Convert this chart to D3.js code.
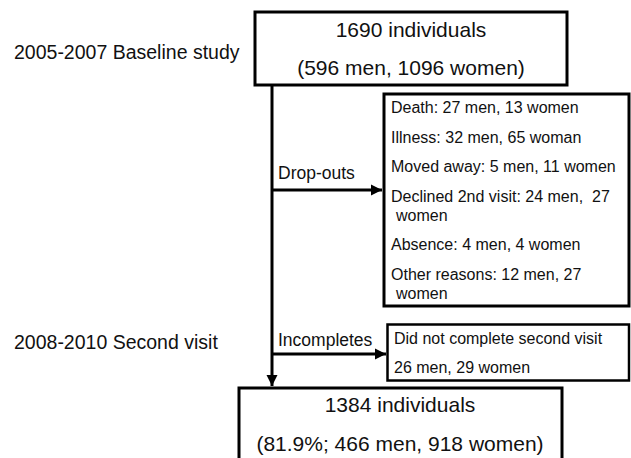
<!DOCTYPE html>
<html>
<head>
<meta charset="utf-8">
<script src="https://cdn.jsdelivr.net/npm/d3@7"></script>
<style>
  body { margin: 0; background: #fff; }
  text { font-family: "Liberation Sans", Arial, sans-serif; fill: #111; white-space: pre; }
</style>
</head>
<body>
<div id="chart"></div>
<script>
const width = 631, height = 458

// stage labels on the left
const stages = ["2005-2007 Baseline study", "2008-2010 Second visit"]

// main boxes
const baseline = ["1690 individuals", "(596 men, 1096 women)"]
const final = ["1384 individuals", "(81.9%; 466 men, 918 women)"]

// side branches
const branchLabels = ["Drop-outs", "Incompletes"]
const dropouts = [
  ["Death: 27 men, 13 women"],
  ["Illness: 32 men, 65 woman"],
  ["Moved away: 5 men, 11 women"],
  ["Declined 2nd visit: 24 men,  27", "women"],
  ["Absence: 4 men, 4 women"],
  ["Other reasons: 12 men, 27", "women"]
]
const incompletes = ["Did not complete second visit", "26 men, 29 women"]

const svg = d3.select("#chart").append("svg")
  .attr("width", width)
  .attr("height", height)

svg.append("defs").append("marker")
  .attr("id", "head")
  .attr("viewBox", "0 0 10 10")
  .attr("refX", 10).attr("refY", 5)
  .attr("markerWidth", 11).attr("markerHeight", 12)
  .attr("markerUnits", "userSpaceOnUse")
  .attr("orient", "auto")
  .append("path")
  .attr("d", "M0,0L10,5L0,10Z")
  .attr("fill", "#000")

function box(x, y, w, h, sw) {
  svg.append("rect")
    .attr("x", x).attr("y", y)
    .attr("width", w).attr("height", h)
    .attr("fill", "#fff")
    .attr("stroke", "#000")
    .attr("stroke-width", sw)
}

function arrow(x1, y1, x2, y2) {
  svg.append("line")
    .attr("x1", x1).attr("y1", y1)
    .attr("x2", x2).attr("y2", y2)
    .attr("stroke", "#000")
    .attr("stroke-width", 3)
    .attr("marker-end", "url(#head)")
}

// stage labels
const stageY = d3.scaleOrdinal().domain(stages).range([59, 349])
svg.selectAll("text.stage")
  .data(stages)
  .enter().append("text")
  .attr("class", "stage")
  .attr("x", 14)
  .attr("y", d => stageY(d))
  .style("font-size", "19.5px")
  .text(d => d)

// spine + arrows
const spineX = 272
svg.append("line")
  .attr("x1", spineX).attr("y1", 85)
  .attr("x2", spineX).attr("y2", 190)
  .attr("stroke", "#000").attr("stroke-width", 3)
arrow(spineX, 190, spineX, 386)
arrow(spineX, 190, 382, 190)
arrow(spineX, 354, 386, 354)

// top box
box(255, 12, 312, 73, 3)
const mainLine = d3.scaleLinear().domain([0, 1]).range([37, 75])
svg.selectAll("text.top")
  .data(baseline)
  .enter().append("text")
  .attr("class", "top")
  .attr("x", 411)
  .attr("y", (d, i) => mainLine(i))
  .attr("text-anchor", "middle")
  .style("font-size", "21px")
  .text(d => d)

// branch labels
const branchY = d3.scaleOrdinal().domain(branchLabels).range([179, 346])
svg.selectAll("text.branch")
  .data(branchLabels)
  .enter().append("text")
  .attr("class", "branch")
  .attr("x", 278)
  .attr("y", d => branchY(d))
  .style("font-size", "17.5px")
  .text(d => d)

// drop-out box
box(384, 94, 245, 212, 3)
const dropY = d3.scaleLinear().domain([0, 1]).range([113, 142.5])
const wrapGap = 19
let dy = 0
dropouts.forEach((lines, i) => {
  lines.forEach((ln, j) => {
    svg.append("text")
      .attr("x", j === 0 ? 391 : 396)
      .attr("y", dropY(i) + dy + j * wrapGap)
      .style("font-size", "16px")
      .text(ln)
  })
  dy += (lines.length - 1) * wrapGap
})

// incompletes box
box(387.5, 324.5, 241.5, 56, 2.5)
const incY = d3.scaleLinear().domain([0, 1]).range([344, 373])
svg.selectAll("text.inc")
  .data(incompletes)
  .enter().append("text")
  .attr("class", "inc")
  .attr("x", 394)
  .attr("y", (d, i) => incY(i))
  .style("font-size", "16px")
  .text(d => d)

// final box
box(239, 388, 323, 90, 3)
const finalLine = d3.scaleLinear().domain([0, 1]).range([412, 451])
svg.selectAll("text.final")
  .data(final)
  .enter().append("text")
  .attr("class", "final")
  .attr("x", 400)
  .attr("y", (d, i) => finalLine(i))
  .attr("text-anchor", "middle")
  .style("font-size", "21px")
  .text(d => d)
</script>
</body>
</html>
